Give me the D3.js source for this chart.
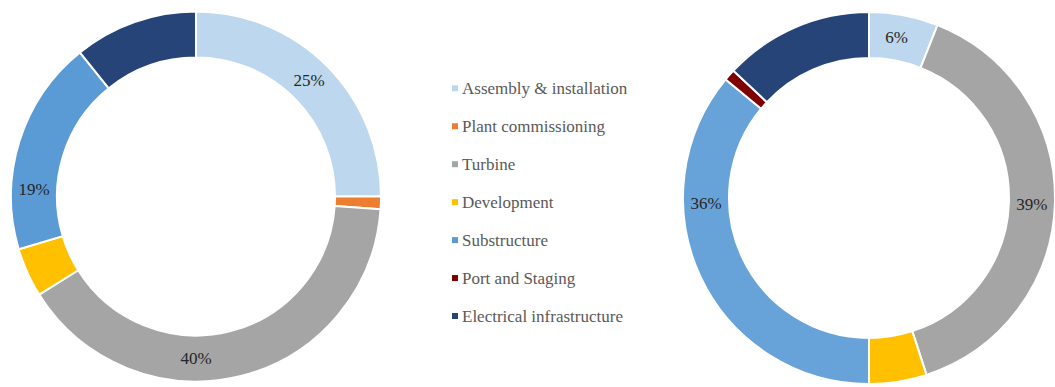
<!DOCTYPE html>
<html>
<head>
<meta charset="utf-8">
<script src="https://cdn.jsdelivr.net/npm/d3@7"></script>
<style>
  html, body { margin: 0; padding: 0; background: #fff; }
  svg { display: block; }
</style>
</head>
<body>
<svg id="chart" width="1055" height="387"></svg>
<script>
// ---- data ----
const categories = ["Assembly & installation", "Plant commissioning", "Turbine", "Development", "Substructure", "Port and Staging", "Electrical infrastructure"];
const colors = ["#BDD7EE", "#ED7D31", "#A5A5A5", "#FFC000", "#5B9BD5", "#7F0000", "#264478"];
const rightColors = ["#BDD7EE", "#ED7D31", "#A5A5A5", "#FFC000", "#67A3D8", "#7F0000", "#264478"];
const leftValues  = [25, 1.1, 40, 4.3, 18.8, 0, 10.8];
const rightValues = [6, 0, 39, 5, 36, 1, 13];
// data labels: text and the angular position (fraction of the circle) where each label sits
const leftLabels  = [{ text: "25%", at: 0.123 }, { text: "40%", at: 0.500 }, { text: "19%", at: 0.757 }];
const rightLabels = [{ text: "6%", at: 0.027 }, { text: "39%", at: 0.256 }, { text: "36%", at: 0.745 }];

const svg = d3.select("#chart");
const font = "'Liberation Serif', 'Times New Roman', serif";

function donut(values, labels, palette, cx, cy, rOuter, rInner) {
  const g = svg.append("g").attr("transform", `translate(${cx},${cy})`);
  const data = values.map((v, i) => ({ v, i }));
  const pie = d3.pie().value(d => d.v).sort(null);
  const arc = d3.arc().innerRadius(rInner).outerRadius(rOuter);
  g.selectAll("path").data(pie(data).filter(d => d.data.v > 0)).join("path")
    .attr("d", arc)
    .attr("fill", d => palette[d.data.i])
    .attr("stroke", "#fff")
    .attr("stroke-width", 2)
    .attr("stroke-linejoin", "round");
  const angle = d3.scaleLinear().domain([0, 1]).range([0, 2 * Math.PI]);
  g.selectAll("text").data(labels).join("text")
    .attr("transform", d => {
      const a = angle(d.at);
      const c = arc.centroid({ startAngle: a, endAngle: a });
      return `translate(${c[0]},${c[1]})`;
    })
    .attr("text-anchor", "middle")
    .attr("dominant-baseline", "central")
    .attr("font-family", font)
    .attr("font-size", 17)
    .attr("fill", "#262626")
    .text(d => d.text);
}

donut(leftValues, leftLabels, colors, 196, 196.5, 185, 139);
donut(rightValues, rightLabels, rightColors, 869, 198, 186, 140);

// legend
const ly = d3.scalePoint().domain(categories).range([88.3, 316]);
const lg = svg.append("g");
const items = lg.selectAll("g").data(categories).join("g")
  .attr("transform", d => `translate(452,${ly(d)})`);
items.append("rect").attr("x", 0).attr("y", -3).attr("width", 6).attr("height", 6)
  .attr("fill", (d, i) => colors[i]);
items.append("text").attr("x", 10).attr("y", 0)
  .attr("dominant-baseline", "central")
  .attr("font-family", font).attr("font-size", 17)
  .attr("fill", "#595959")
  .text(d => d);
</script>
</body>
</html>
